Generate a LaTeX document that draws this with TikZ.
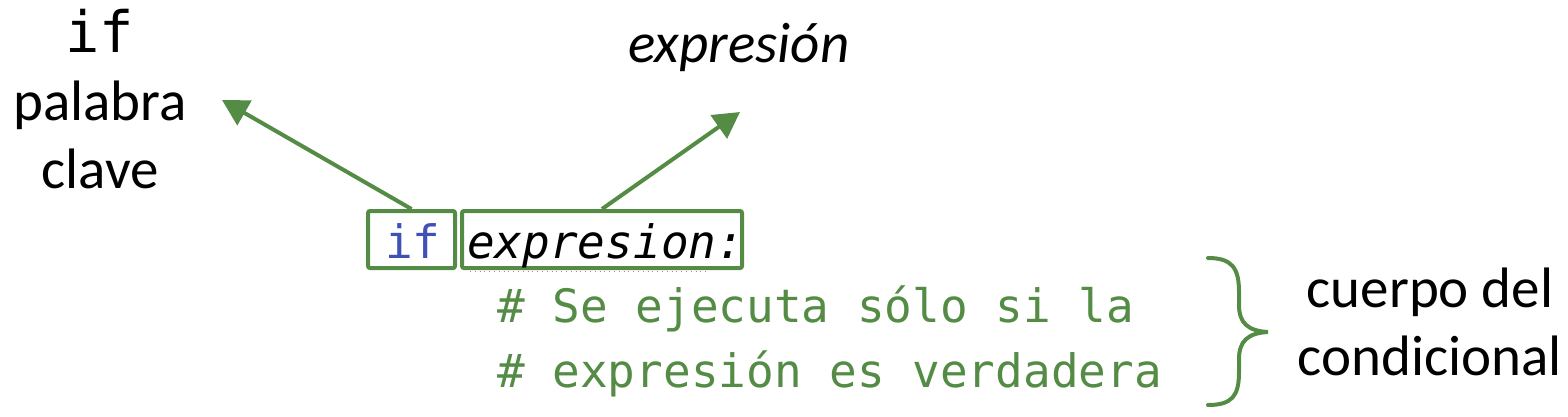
\documentclass[tikz,border=0pt]{standalone}
\usepackage{fontspec}
\setmainfont{Carlito}
\newfontfamily\codefont{DejaVu Sans Mono}
\usetikzlibrary{arrows.meta}
\definecolor{cgreen}{HTML}{548C46}
\definecolor{cblue}{HTML}{3F51B5}
\definecolor{cred}{HTML}{E07070}
\tikzset{
  lbl/.style={inner sep=0pt, align=center, font=\fontsize{57}{68}\selectfont},
  code/.style={inner sep=0pt, font=\codefont\fontsize{46}{50}\selectfont},
  cbox/.style={draw=cgreen, line width=4pt, rounded corners=2pt, inner sep=0pt, minimum height=57pt},
  arr/.style={draw=cgreen, line width=4pt, -{Triangle[length=26pt,width=28pt]}},
  brace/.style={draw=cgreen, line width=4pt, line cap=round}
}
\begin{document}
\begin{tikzpicture}[x=1pt,y=-1pt]
\useasboundingbox (0,0) rectangle (1568,416);
% labels
\node[lbl, anchor=base] (kw) at (100,188) {{\codefont if}\\palabra\\clave};
\node[lbl, anchor=base] (ex) at (739,62) {\itshape expresión};
\node[lbl, anchor=base] (body) at (1430,375) {cuerpo del\\condicional};
% boxes
\node[cbox, minimum width=87pt] (ifbox) at (411.5,239.5) {};
\node[cbox, minimum width=280pt] (exbox) at (602,239.5) {};
% code text
\node[code, anchor=base west, text=cblue] (ifkw) at (385,258) {if};
\node[code, anchor=base west] (exprtxt) at (467,258) {\itshape expresion:};
\draw[cred, line width=0.8pt, dash pattern=on 0.8pt off 4pt] (470,271) -- (708,271);
\node[code, anchor=base west, text=cgreen] (c1) at (497,322) {\# Se ejecuta sólo si la};
\node[code, anchor=base west, text=cgreen] (c2) at (497,387) {\# expresión es verdadera};
% arrows
\coordinate (kwtip) at (222,100);
\coordinate (extip) at (740,112);
\draw[arr] (ifbox.north) -- (kwtip);
\draw[arr] (exbox.north) -- (extip);
% brace
\coordinate (bt) at (1208,258);
\coordinate (bm) at (1268,332);
\coordinate (bb) at (1208,405);
\draw[brace] (bt) .. controls (1232,258) and (1239,268) .. (1239,292) -- (1239,305)
  .. controls (1239,323) and (1248,331) .. (bm)
  .. controls (1248,333) and (1239,341) .. (1239,359) -- (1239,372)
  .. controls (1239,396) and (1232,405) .. (bb);
\end{tikzpicture}
\end{document}
